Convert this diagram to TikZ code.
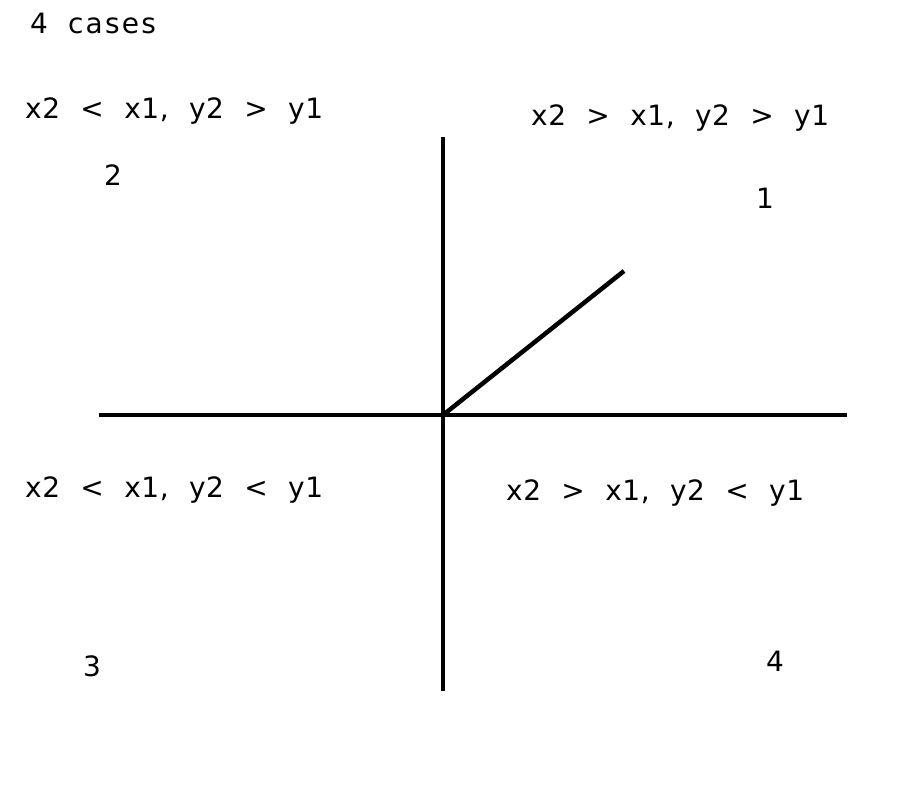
\documentclass[tikz,border=0pt]{standalone}
\usepackage{fontspec}
\setmainfont{DejaVu Sans}[LetterSpace=2,WordSpace={2.15}]
\begin{document}
\begin{tikzpicture}[x=1pt,y=-1pt,
  axis/.style={line width=4.5pt},
  lbl/.style={font=\fontsize{28}{32}\selectfont, inner sep=0pt, anchor=base west},
  ttl/.style={font=\fontsize{28}{32}\selectfont\addfontfeature{LetterSpace=8}, inner sep=0pt, anchor=base west},
  num/.style={font=\fontsize{28}{32}\selectfont, inner sep=0pt, anchor=base}]
\useasboundingbox[fill=white] (0,0) rectangle (916,796);
\coordinate (vt) at (443,137);
\coordinate (vb) at (443,691);
\coordinate (hl) at (99,415);
\coordinate (hr) at (847,415);
\coordinate (o) at (443,415);
\coordinate (p) at (624,271);
\draw[axis] (vt) -- (vb);
\draw[axis] (hl) -- (hr);
\draw[axis] (o) -- (p);
\node[ttl] (title) at (30,33) {4\hspace{20pt}cases};
\node[lbl] (q2) at (25,118) {x2 < x1, y2 > y1};
\node[lbl] (q1) at (531,125) {x2 > x1, y2 > y1};
\node[lbl] (q3) at (25,497) {x2 < x1, y2 < y1};
\node[lbl] (q4) at (506,500) {x2 > x1, y2 < y1};
\node[num] (n2) at (113,185) {2};
\node[num] (n1) at (765,208) {1};
\node[num] (n3) at (92,676) {3};
\node[num] (n4) at (775,671) {4};
\end{tikzpicture}
\end{document}
